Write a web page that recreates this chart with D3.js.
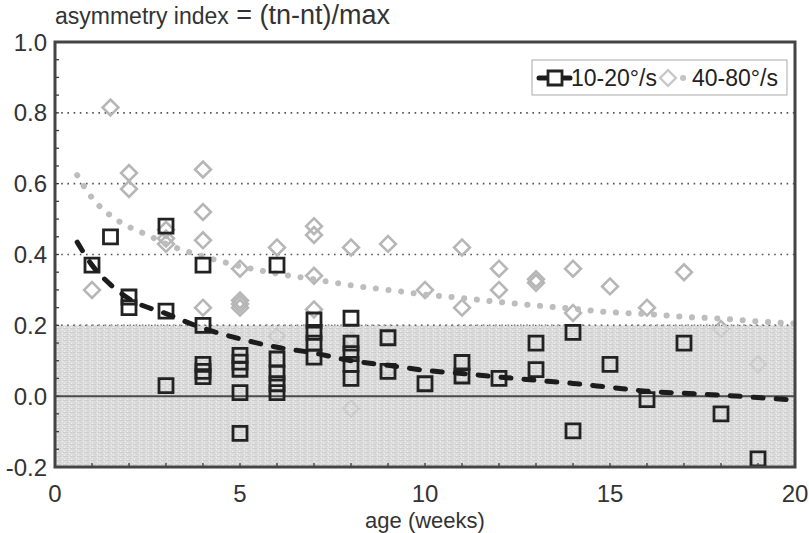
<!DOCTYPE html>
<html><head><meta charset="utf-8">
<script src="https://cdn.jsdelivr.net/npm/d3@7"></script>
<style>
html,body{margin:0;padding:0;background:#fff;}
svg{display:block;font-family:"Liberation Sans",Arial,sans-serif;}
</style></head>
<body>
<svg id="chart" width="809" height="533"></svg>
<script>
// ---- data ----
const slowAges   = [1,1.5,2,2,3,3,3,4,4,4,4,4,5,5,5,5,5,6,6,6,6,6,7,7,7,7,8,8,8,8,8,9,9,10,11,11,12,13,13,14,14,15,16,17,18,19];
const slowValues = [0.37,0.45,0.28,0.25,0.48,0.24,0.03,0.37,0.20,0.09,0.07,0.055,0.115,0.096,0.076,0.01,-0.105,0.37,0.105,0.065,0.035,0.01,0.215,0.18,0.15,0.11,0.22,0.15,0.12,0.09,0.05,0.165,0.07,0.035,0.095,0.057,0.05,0.15,0.075,0.18,-0.098,0.09,-0.01,0.15,-0.05,-0.177];
const fastAges   = [1,1.5,2,2,3,3,3,4,4,4,4,5,5,5,5,6,6,7,7,7,7,8,8,8,9,9,10,11,11,12,12,13,13,14,14,15,16,17,18,19];
const fastValues = [0.30,0.815,0.63,0.585,0.47,0.445,0.43,0.64,0.52,0.44,0.25,0.36,0.27,0.26,0.25,0.42,0.17,0.48,0.455,0.34,0.245,0.42,0.16,-0.035,0.43,0.075,0.30,0.42,0.25,0.36,0.30,0.33,0.32,0.36,0.235,0.31,0.25,0.35,0.19,0.09];
const slowFitAges   = [0.6,1,1.5,2,3,4,5,6,7,8,9,10,11,12,13,14,15,16,17,18,19,20];
const slowFitValues = [0.435,0.37,0.315,0.275,0.233,0.192,0.162,0.138,0.122,0.10,0.087,0.073,0.064,0.054,0.045,0.036,0.025,0.014,0.008,0.003,-0.004,-0.011];
const fastFitAges   = [0.6,1,1.5,2,2.5,3,4,5,6,7,8,9,10,11,12,13,14,15,16,17,18,19,20];
const fastFitValues = [0.624,0.56,0.51,0.478,0.455,0.43,0.395,0.367,0.346,0.33,0.313,0.30,0.287,0.277,0.266,0.256,0.247,0.237,0.232,0.224,0.219,0.211,0.205];
const yTicks = [1.0,0.8,0.6,0.4,0.2,0.0,-0.2];
const yTickLabels = ["1.0","0.8","0.6","0.4","0.2","0.0","-0.2"];
const xTicks = [0,5,10,15,20];
const xTickLabels = ["0","5","10","15","20"];
const gridValues = [0.2,0.4,0.6,0.8];
const bandRange = [-0.2,0.2];
const seriesNames = ["10-20°/s","40-80°/s"];

// ---- drawing ----
const svg = d3.select("#chart");
const x = d3.scaleLinear().domain([0,20]).range([55,795]);
const y = d3.scaleLinear().domain([-0.2,1.0]).range([467,42]);
const ink = "#3a3a3a";

// band texture
const defs = svg.append("defs");
const pat = defs.append("pattern").attr("id","band").attr("patternUnits","userSpaceOnUse")
  .attr("width",7).attr("height",4);
pat.append("rect").attr("width",7).attr("height",4).attr("fill","#d6d6d6");
pat.append("rect").attr("x",0).attr("y",0).attr("width",5).attr("height",1).attr("fill","#c2c2c2");
pat.append("rect").attr("x",3).attr("y",2).attr("width",3).attr("height",1).attr("fill","#c9c9c9");
pat.append("rect").attr("x",1).attr("y",3).attr("width",1).attr("height",1).attr("fill","#eeeeee");
pat.append("rect").attr("x",6).attr("y",1).attr("width",1).attr("height",1).attr("fill","#ebebeb");

// dotted gridlines
svg.append("g").selectAll("line").data(gridValues).join("line")
  .attr("x1",x(0)).attr("x2",x(20)).attr("y1",d=>y(d)).attr("y2",d=>y(d))
  .attr("stroke","#555").attr("stroke-width",1.6).attr("stroke-dasharray","1.6,4.6");

// diamonds
const diamond = d3.symbol().type(d3.symbolSquare).size(125);
const fastIdx = d3.range(fastAges.length);
svg.append("g").selectAll("path").data(fastIdx).join("path")
  .attr("d",diamond)
  .attr("transform",i=>`translate(${x(fastAges[i])},${y(fastValues[i])}) rotate(45)`)
  .attr("fill","none").attr("stroke","#b6b6b6").attr("stroke-width",2.6);

// band over diamonds
svg.append("rect").attr("x",x(0)).attr("width",x(20)-x(0))
  .attr("y",y(bandRange[1])).attr("height",y(bandRange[0])-y(bandRange[1]))
  .attr("fill","url(#band)").attr("opacity",0.82);
svg.append("line").attr("x1",x(0)).attr("x2",x(20)).attr("y1",y(0.2)).attr("y2",y(0.2))
  .attr("stroke","#666").attr("stroke-width",1.4).attr("stroke-dasharray","1.4,4.6");
// zero line
svg.append("line").attr("x1",x(0)).attr("x2",x(20)).attr("y1",y(0)).attr("y2",y(0))
  .attr("stroke","#4a4a4a").attr("stroke-width",2);

// grey fit (dots)
const line = d3.line().curve(d3.curveMonotoneX);
svg.append("path")
  .attr("d",line(fastFitAges.map((a,i)=>[x(a),y(fastFitValues[i])])))
  .attr("fill","none").attr("stroke","#bdbdbd").attr("stroke-width",6)
  .attr("stroke-linecap","round").attr("stroke-dasharray","0.1,12.6");

// squares
const sq = d3.symbol().type(d3.symbolSquare).size(196);
const slowIdx = d3.range(slowAges.length);
svg.append("g").selectAll("path").data(slowIdx).join("path")
  .attr("d",sq)
  .attr("transform",i=>`translate(${x(slowAges[i])},${y(slowValues[i])})`)
  .attr("fill","none").attr("stroke","#222").attr("stroke-width",2.8);

// black fit (dashes)
svg.append("path")
  .attr("d",line(slowFitAges.map((a,i)=>[x(a),y(slowFitValues[i])])))
  .attr("fill","none").attr("stroke","#1c1c1c").attr("stroke-width",5)
  .attr("stroke-linecap","round").attr("stroke-dasharray","10,13");

// ticks
const yMinor = d3.range(-0.2,1.0001,0.05);
svg.append("g").selectAll("line").data(yMinor).join("line")
  .attr("x1",x(0)).attr("x2",x(0)+4).attr("y1",d=>y(d)).attr("y2",d=>y(d))
  .attr("stroke",ink).attr("stroke-width",1.3);
const xMinor = d3.range(0,21,1);
svg.append("g").selectAll("line").data(xMinor).join("line")
  .attr("x1",d=>x(d)).attr("x2",d=>x(d)).attr("y1",y(-0.2)).attr("y2",y(-0.2)-4)
  .attr("stroke",ink).attr("stroke-width",1.3);

// frame
svg.append("rect").attr("x",x(0)).attr("y",y(1.0)).attr("width",x(20)-x(0)).attr("height",y(-0.2)-y(1.0))
  .attr("fill","none").attr("stroke","#444").attr("stroke-width",3);

// tick labels
svg.append("g").selectAll("text").data(yTicks).join("text")
  .attr("x",47).attr("y",d=>y(d)).attr("dy","0.36em").attr("text-anchor","end")
  .attr("font-size",24).attr("fill","#333").text((d,i)=>yTickLabels[i]);
svg.append("g").selectAll("text").data(xTicks).join("text")
  .attr("x",d=>x(d)).attr("y",502).attr("text-anchor","middle")
  .attr("font-size",24).attr("fill","#333").text((d,i)=>xTickLabels[i]);

// axis titles
svg.append("text").attr("x",425).attr("y",528).attr("text-anchor","middle")
  .attr("font-size",22).attr("fill","#333").text("age (weeks)");
const t = svg.append("text").attr("x",55).attr("y",24).attr("fill","#333");
t.append("tspan").attr("font-size",23).text("asymmetry index");
t.append("tspan").attr("font-size",27).text(" = (tn-nt)/max");

// legend
const lg = svg.append("g");
lg.append("rect").attr("x",532).attr("y",60).attr("width",255).attr("height",35)
  .attr("fill","#fff").attr("stroke","#aaa").attr("stroke-width",1);
lg.append("line").attr("x1",539).attr("x2",570).attr("y1",78).attr("y2",78)
  .attr("stroke","#1c1c1c").attr("stroke-width",5).attr("stroke-linecap","round");
lg.append("path").attr("d",sq).attr("transform","translate(555,78)")
  .attr("fill","#fff").attr("stroke","#222").attr("stroke-width",2.8);
lg.append("text").attr("x",571).attr("y",86).attr("font-size",23).attr("fill","#222").text(seriesNames[0]);
lg.append("line").attr("x1",683).attr("x2",683.1).attr("y1",78).attr("y2",78)
  .attr("stroke","#c3c3c3").attr("stroke-width",6).attr("stroke-linecap","round");
lg.append("path").attr("d",diamond).attr("transform","translate(668,78) rotate(45)")
  .attr("fill","#fff").attr("stroke","#c8c8c8").attr("stroke-width",2.4);
lg.append("text").attr("x",692).attr("y",86).attr("font-size",23).attr("fill","#222").text(seriesNames[1]);
</script>
</body></html>
